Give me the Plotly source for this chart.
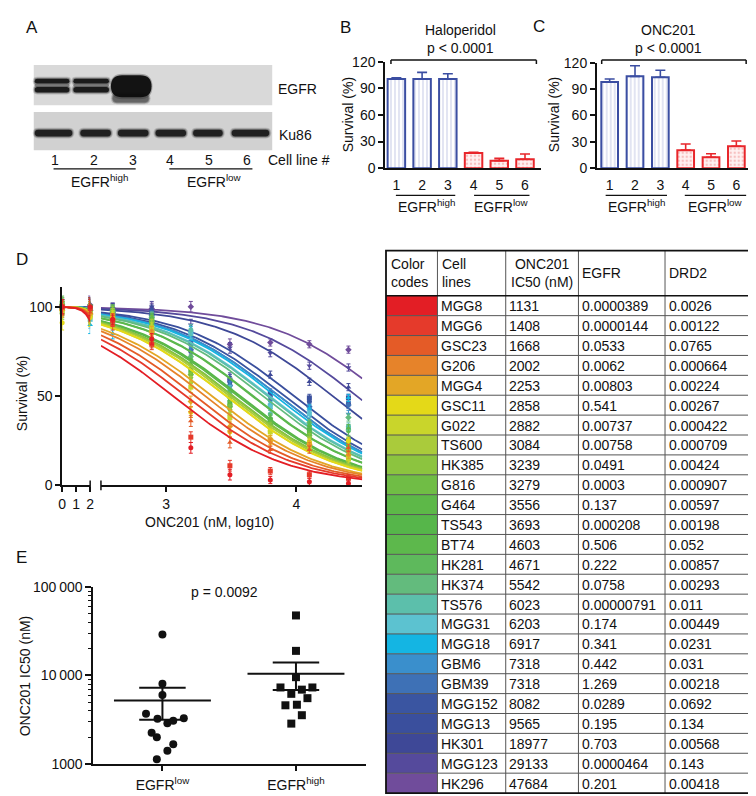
import numpy as np
import plotly.graph_objects as go

W, H = 756, 796
FONT = "Liberation Sans, Arial, Helvetica, sans-serif"

# ---------------- data ----------------
# Panels B / C
BAR_LINES = [1, 2, 3, 4, 5, 6]
HALO_MEAN = [100.5, 100.5, 100.5, 17.0, 8.5, 10.0]
HALO_ERR = [1.5, 7.5, 6.0, 1.0, 2.5, 6.0]
ONC_MEAN = [98.0, 104.5, 103.5, 20.5, 12.5, 25.0]
ONC_ERR = [3.5, 12.0, 8.0, 7.0, 4.0, 6.0]

# Table / panel D / panel E
CELL_LINES = ["MGG8", "MGG6", "GSC23", "G206", "MGG4", "GSC11", "G022", "TS600", "HK385",
              "G816", "G464", "TS543", "BT74", "HK281", "HK374", "TS576", "MGG31", "MGG18",
              "GBM6", "GBM39", "MGG152", "MGG13", "HK301", "MGG123", "HK296"]
IC50 = [1131, 1408, 1668, 2002, 2253, 2858, 2882, 3084, 3239, 3279, 3556, 3693, 4603, 4671,
        5542, 6023, 6203, 6917, 7318, 7318, 8082, 9565, 18977, 29133, 47684]
EGFR = ["0.0000389", "0.0000144", "0.0533", "0.0062", "0.00803", "0.541", "0.00737", "0.00758",
        "0.0491", "0.0003", "0.137", "0.000208", "0.506", "0.222", "0.0758", "0.00000791",
        "0.174", "0.341", "0.442", "1.269", "0.0289", "0.195", "0.703", "0.0000464", "0.201"]
DRD2 = ["0.0026", "0.00122", "0.0765", "0.000664", "0.00224", "0.00267", "0.000422", "0.000709",
        "0.00424", "0.000907", "0.00597", "0.00198", "0.052", "0.00857", "0.00293", "0.011",
        "0.00449", "0.0231", "0.031", "0.00218", "0.0692", "0.134", "0.00568", "0.143", "0.00418"]
COLORS = ["#e31e25", "#e53a2b", "#e45b27", "#e6832a", "#e3a626", "#e4d918", "#c9d52b", "#aacb3b",
          "#8cc43f", "#70bd45", "#5db848", "#56b64a", "#5db84c", "#5eb95c", "#63bb7d", "#5cbfab",
          "#5cc2d0", "#14b5e3", "#3a8fcc", "#3e71b6", "#3a55a1", "#3a4f9d", "#3e4897", "#554a9c",
          "#704c9b"]

LOG_DOSE = [0, 2, 2.59, 2.89, 3.19, 3.49, 3.80, 4.10, 4.40]
SURV = [
    [100, 100, 93, 82, 21, 6, 3, 2, 1],
    [100, 99, 92, 79, 27, 11, 8, 6, 4],
    [99, 97, 90, 80, 36, 24, 20, 20, 21],
    [100, 98, 92, 84, 41, 30, 24, 22, 19],
    [98, 96, 93, 86, 47, 33, 26, 23, 17],
    [91, 94, 94, 86, 41, 30, 25, 24, 25],
    [97, 96, 95, 88, 55, 38, 30, 22, 15],
    [99, 95, 96, 90, 58, 40, 31, 25, 14],
    [101, 97, 97, 89, 60, 42, 33, 27, 18],
    [99, 96, 98, 92, 62, 44, 34, 28, 20],
    [100, 98, 96, 91, 63, 45, 35, 29, 22],
    [102, 100, 95, 92, 65, 46, 36, 31, 25],
    [100, 97, 97, 93, 68, 48, 38, 34, 32],
    [99, 96, 98, 93, 70, 50, 37, 33, 30],
    [101, 98, 97, 94, 72, 49, 36, 35, 38],
    [98, 95, 96, 94, 87, 52, 40, 33, 33],
    [100, 93, 90, 92, 85, 53, 44, 40, 32],
    [97, 90, 85, 89, 86, 50, 45, 43, 49],
    [100, 97, 96, 94, 78, 55, 45, 43, 40],
    [99, 98, 97, 95, 76, 56, 48, 44, 45],
    [101, 99, 98, 96, 75, 58, 50, 47, 46],
    [100, 99, 98, 97, 80, 59, 52, 49, 49],
    [100, 100, 99, 98, 87, 60, 62, 58, 55],
    [100, 100, 99, 100, 90, 77, 74, 67, 66],
    [100, 101, 99, 99, 100, 79, 80, 79, 76],
]
SURV_ERR = [4, 5, 3, 3, 3, 3, 2, 2, 2]
HILL = 1.0
EGFR_CUTOFF = 0.07

# ---------------- helpers ----------------
def px(x):
    return x / W


def py(y):
    return 1 - y / H


shapes = []
annotations = []


def ann(text, x, y, size=14, xanchor="center", yanchor="middle", angle=0, align="center"):
    annotations.append(dict(text=text, x=px(x), y=py(y), xref="paper", yref="paper",
                            showarrow=False, xanchor=xanchor, yanchor=yanchor,
                            textangle=angle, align=align,
                            font=dict(family=FONT, size=size, color="#111")))


def pline(x0, y0, x1, y1, color="#111", width=1.5):
    shapes.append(dict(type="line", xref="paper", yref="paper", x0=px(x0), y0=py(y0),
                       x1=px(x1), y1=py(y1), line=dict(color=color, width=width)))


def prect(x0, y0, x1, y1, fill, lc="rgba(0,0,0,0)", lw=0, kind="rect", layer="above"):
    shapes.append(dict(type=kind, xref="paper", yref="paper", x0=px(x0), y0=py(y1),
                       x1=px(x1), y1=py(y0), fillcolor=fill, layer=layer,
                       line=dict(color=lc, width=lw)))


def rpath(x0, y0, x1, y1, fill):
    r = min((y1 - y0) / 2, (x1 - x0) / 2)
    ym = (y0 + y1) / 2

    def P(x, y):
        return f"{px(x):.5f},{py(y):.5f}"
    path = (f"M {P(x0 + r, y0)} L {P(x1 - r, y0)} Q {P(x1, y0)} {P(x1, ym)} "
            f"Q {P(x1, y1)} {P(x1 - r, y1)} L {P(x0 + r, y1)} Q {P(x0, y1)} {P(x0, ym)} "
            f"Q {P(x0, y0)} {P(x0 + r, y0)} Z")
    shapes.append(dict(type="path", xref="paper", yref="paper", path=path, fillcolor=fill,
                       line=dict(width=0, color="rgba(0,0,0,0)")))


def band(x0, y0, x1, y1, dark=0.9):
    rpath(x0 - 1, y0 - 2, x1 + 1, y1 + 2, "rgba(40,40,40,0.18)")
    rpath(x0, y0 - 1, x1, y1 + 1, "rgba(30,30,30,0.35)")
    rpath(x0 + 1, y0, x1 - 1, y1, f"rgba(15,15,15,{dark})")


fig = go.Figure()

# ---------------- Panel A (western blot) ----------------
ann("A", 20, 12, size=17)
prect(22, 50, 263, 91, "#d9d9d9")
prect(22, 98, 263, 137, "#d1d1d1")
for (a, b) in [(22, 59), (61, 99)]:
    band(a, 64, b, 69, dark=0.9)
    band(a, 72.5, b, 78, dark=0.9)
    rpath(a + 1, 69, b - 1, 72.5, "rgba(60,60,60,0.45)")
band(101, 80, 139, 88, dark=0.25)
rpath(99, 59, 142, 85, "rgba(40,40,40,0.3)")
rpath(100, 60.5, 141, 83, "rgba(12,12,12,0.96)")
for (a, b) in [(22, 62), (68, 101), (106, 139), (144, 177), (182, 214), (221, 261)]:
    band(a, 116, b, 123, dark=0.85)
ann("EGFR", 267, 75, xanchor="left")
ann("Ku86", 268, 121, xanchor="left")
for lab, x in zip(["1", "2", "3", "4", "5", "6"], [43, 83, 122, 160, 199, 238]):
    ann(lab, x, 147)
ann("Cell line #", 257, 147, xanchor="left")
pline(42, 156, 125, 156, width=1.2)
pline(159, 156, 243, 156, width=1.2)
ann("EGFR<sup>high</sup>", 88, 168)
ann("EGFR<sup>low</sup>", 205, 168)

# ---------------- Panels B / C ----------------
BLUE = "#3b4ea2"
RED = "#e8262b"


def bar_panel(xa, ya, means, errs, width):
    for idx, col, pat, fg, bg in [(slice(0, 3), BLUE, "|", "#9ea6d6", "white"),
                                  (slice(3, 6), RED, ".", "#ee8d8d", "#fff1f1")]:
        fig.add_trace(go.Bar(
            x=BAR_LINES[idx], y=means[idx], width=width, xaxis=xa, yaxis=ya,
            marker=dict(color=bg, line=dict(color=col, width=2),
                        pattern=dict(shape=pat, fgcolor=fg, bgcolor=bg, size=4, solidity=0.3)),
            error_y=dict(type="data", array=errs[idx], arrayminus=[0, 0, 0], symmetric=False,
                         color=col, thickness=1.6, width=5),
            hoverinfo="skip"))


bar_panel("x", "y", HALO_MEAN, HALO_ERR, 0.68)
bar_panel("x2", "y2", ONC_MEAN, ONC_ERR, 0.66)

ann("B", 337, 12, size=17)
ann("C", 533, 11, size=17)
ann("Haloperidol", 453, 14)
ann("p &lt; 0.0001", 453, 33)
ann("ONC201", 664, 14)
ann("p &lt; 0.0001", 664, 33)
for (a, b) in [(383, 530), (596, 742)]:
    pline(a, 45, b, 45, width=1.5)
    pline(a, 45, a, 49, width=1.5)
    pline(b, 45, b, 49, width=1.5)
ann("Survival (%)", 340, 101, angle=-90)
ann("Survival (%)", 548, 101, angle=-90)
for (a, b) in [(388, 448), (467, 523), (600, 662), (680, 742)]:
    pline(a, 183, b, 183, width=1.2)
ann("EGFR<sup>high</sup>", 419, 194)
ann("EGFR<sup>low</sup>", 495, 194)
ann("EGFR<sup>high</sup>", 631, 194)
ann("EGFR<sup>low</sup>", 711, 194)

# ---------------- Panel D ----------------
ann("D", 10, 249, size=17)
SYMS = ["circle", "square", "triangle-up", "triangle-down", "diamond"]
xl = np.linspace(0, 2, 60)
xr = np.linspace(2.5, 4.506, 140)


def hill(x, ic):
    return 100 / (1 + 10 ** (HILL * (x - np.log10(ic))))


for i in reversed(range(len(CELL_LINES))):
    c = COLORS[i]
    ic = IC50[i]
    fig.add_trace(go.Scatter(x=xl, y=hill(xl, ic), xaxis="x3", yaxis="y3", mode="lines",
                             line=dict(color=c, width=1.8), hoverinfo="skip", cliponaxis=False))
    fig.add_trace(go.Scatter(x=xr, y=hill(xr, ic), xaxis="x4", yaxis="y3", mode="lines",
                             line=dict(color=c, width=1.8), hoverinfo="skip", cliponaxis=False))
    mk = dict(color=c, size=5, symbol=SYMS[i % 5])
    fig.add_trace(go.Scatter(x=LOG_DOSE[:2], y=SURV[i][:2], xaxis="x3", yaxis="y3",
                             mode="markers", marker=mk, cliponaxis=False, hoverinfo="skip",
                             error_y=dict(type="data", array=SURV_ERR[:2], color=c,
                                          thickness=1, width=2)))
    fig.add_trace(go.Scatter(x=LOG_DOSE[2:], y=SURV[i][2:], xaxis="x4", yaxis="y3",
                             mode="markers", marker=mk, cliponaxis=False, hoverinfo="skip",
                             error_y=dict(type="data", array=SURV_ERR[2:], color=c,
                                          thickness=1, width=2)))

# axis break end caps
pline(79, 474, 79, 484, width=1.5)
pline(89.9, 474, 89.9, 484, width=1.5)
ann("Survival (%)", 10, 385, angle=-90)
ann("ONC201 (nM, log10)", 200, 516)

# ---------------- Panel E ----------------
ann("E", 10, 553, size=17)
JITTER = {"MGG123": 0, "MGG152": 0, "TS576": 0, "TS543": -0.123, "HK385": -0.037,
          "G022": 0.037, "TS600": 0.081, "G816": 0.16, "MGG4": -0.081, "G206": -0.042,
          "GSC23": 0.081, "MGG6": 0.037, "MGG8": -0.042,
          "HK296": 0, "HK301": 0, "MGG13": 0, "GBM6": -0.116, "GBM39": 0.123,
          "MGG18": 0.044, "MGG31": -0.035, "HK374": 0.086, "BT74": -0.079, "HK281": 0.007,
          "G464": 0.044, "GSC11": -0.035}
is_high = [float(e) > EGFR_CUTOFF for e in EGFR]
for gpos, flag, sym in [(1, False, "circle"), (2, True, "square")]:
    vals = [IC50[k] for k in range(len(IC50)) if is_high[k] == flag]
    names = [CELL_LINES[k] for k in range(len(IC50)) if is_high[k] == flag]
    xs = [gpos + JITTER[n] for n in names]
    fig.add_trace(go.Scatter(x=xs, y=vals, xaxis="x5", yaxis="y5", mode="markers",
                             marker=dict(color="#111", size=8, symbol=sym),
                             cliponaxis=False, hoverinfo="skip"))
    m = float(np.mean(vals))
    sem = float(np.std(vals, ddof=1) / np.sqrt(len(vals)))
    fig.add_trace(go.Scatter(x=[gpos - 0.363, gpos + 0.363], y=[m, m], xaxis="x5", yaxis="y5",
                             mode="lines", line=dict(color="#111", width=2), hoverinfo="skip"))
    fig.add_trace(go.Scatter(x=[gpos, gpos], y=[m - sem, m + sem], xaxis="x5", yaxis="y5",
                             mode="lines", line=dict(color="#111", width=2), hoverinfo="skip"))
    for yv in (m - sem, m + sem):
        fig.add_trace(go.Scatter(x=[gpos - 0.174, gpos + 0.174], y=[yv, yv], xaxis="x5",
                                 yaxis="y5", mode="lines", line=dict(color="#111", width=2),
                                 hoverinfo="skip"))
ann("p = 0.0092", 215, 588)
ann("ONC201 IC50 (nM)", 14, 673, angle=-90)

# ---------------- Table ----------------
T_L, T_R, T_TOP, T_HB, T_BOT = 378, 749, 239.5, 285.5, 793
COLX = [378, 430, 499, 572.5, 660, 749]
ROW_H = (T_BOT - T_HB) / len(CELL_LINES)
prect(T_L, T_TOP, T_R, T_BOT, "white", layer="below")
for i, name in enumerate(CELL_LINES):
    top = T_HB + i * ROW_H
    prect(COLX[0], top, COLX[1], top + ROW_H, COLORS[i])
    cy = top + ROW_H / 2 + 0.5
    ann(name, COLX[1] + 1.5, cy, xanchor="left")
    ann(str(IC50[i]), COLX[2] + 1.5, cy, xanchor="left")
    ann(EGFR[i], COLX[3] + 1.5, cy, xanchor="left")
    ann(DRD2[i], COLX[4] + 1.5, cy, xanchor="left")
for i in range(1, len(CELL_LINES)):
    yy = T_HB + i * ROW_H
    pline(T_L, yy, T_R, yy, color="#555", width=1)
for xx in COLX[1:-1]:
    pline(xx, T_TOP, xx, T_BOT, color="#555", width=1)
pline(T_L, T_HB, T_R, T_HB, color="#111", width=1.6)
shapes.append(dict(type="rect", xref="paper", yref="paper", x0=px(T_L), x1=px(T_R),
                   y0=py(T_BOT), y1=py(T_TOP), line=dict(color="#111", width=1.8)))
ann("Color<br>codes", 381, 262.5, xanchor="left", align="left")
ann("Cell<br>lines", 433, 262.5, xanchor="left", align="left")
ann("ONC201<br>IC50 (nM)", 536, 262.5)
ann("EGFR", 574, 262.5, xanchor="left")
ann("DRD2", 662, 262.5, xanchor="left")

# ---------------- axes ----------------
AX = dict(showline=True, linecolor="#111", linewidth=1.5, showgrid=False, zeroline=False,
          tickfont=dict(family=FONT, size=14, color="#111"), tickcolor="#111", fixedrange=True)

layout_axes = dict(
    xaxis=dict(AX, domain=[px(377), px(535)], range=[0.558, 6.635], anchor="y",
               tickvals=BAR_LINES, ticks="", ticklabelstandoff=3),
    yaxis=dict(AX, domain=[py(155.3), py(46.7)], range=[0, 120], anchor="x",
               tickvals=[0, 30, 60, 90, 120], ticks="outside", ticklen=5, tickwidth=1.5),
    xaxis2=dict(AX, domain=[px(591), px(749)], range=[0.49, 6.66], anchor="y2",
                tickvals=BAR_LINES, ticks="", ticklabelstandoff=3),
    yaxis2=dict(AX, domain=[py(155.3), py(47.7)], range=[0, 120], anchor="x2",
                tickvals=[0, 30, 60, 90, 120], ticks="outside", ticklen=5, tickwidth=1.5),
    xaxis3=dict(AX, domain=[px(50.7), px(79)], range=[0, 2], anchor="y3",
                tickvals=[0, 1, 2], ticks="outside", ticklen=5, tickwidth=1.5),
    yaxis3=dict(AX, domain=[py(479), py(276.7)], range=[0, 111], anchor="x3",
                tickvals=[0, 50, 100], ticks="outside", ticklen=5, tickwidth=1.5),
    xaxis4=dict(AX, domain=[px(89.9), px(354)], range=[2.5, 4.506], anchor="y3",
                tickvals=[3, 4], ticks="outside", ticklen=5, tickwidth=1.5),
    xaxis5=dict(AX, domain=[px(82), px(358)], range=[0.481, 2.526], anchor="y5",
                tickvals=[1, 2], ticktext=["EGFR<sup>low</sup>", "EGFR<sup>high</sup>"],
                ticks="outside", ticklen=5, tickwidth=1.5, ticklabelstandoff=2),
    yaxis5=dict(AX, type="log", domain=[py(763.3), py(582.7)], range=[3, 5], anchor="x5",
                tickvals=[1000, 10000, 100000],
                ticktext=["1000", "10\u2009000", "100\u2009000"],
                ticks="outside", ticklen=6, tickwidth=1.5,
                minor=dict(tickvals=[k * 10 ** e for e in (3, 4) for k in range(2, 10)],
                           ticks="outside", ticklen=3, tickwidth=1, tickcolor="#111",
                           showgrid=False)),
)

fig.update_layout(
    width=W, height=H, margin=dict(l=0, r=0, t=0, b=0),
    paper_bgcolor="white", plot_bgcolor="white", showlegend=False,
    font=dict(family=FONT, size=14, color="#111"),
    shapes=shapes, annotations=annotations, barmode="overlay",
    **layout_axes)

fig.write_html("out.html")
